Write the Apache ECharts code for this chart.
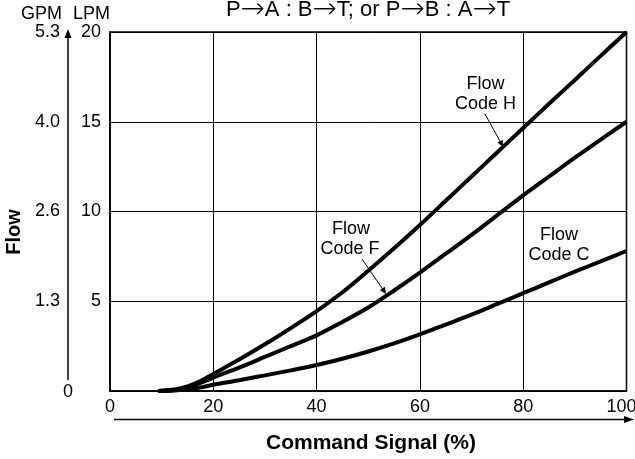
<!DOCTYPE html>
<html><head><meta charset="utf-8">
<script src="https://cdn.jsdelivr.net/npm/echarts@6/dist/echarts.min.js"></script>
<style>html,body{margin:0;padding:0;background:#fff}#c{width:635px;height:459px}</style>
</head><body><div id="c"></div>
<script>
const commandSignal = [9.3, 12.5, 15, 17.5, 20, 25, 30, 35, 40, 45, 50, 55, 60, 65, 70, 75, 80, 85, 90, 95, 100];
const flowCodeH = [0, 0.08, 0.25, 0.55, 0.95, 1.75, 2.6, 3.5, 4.45, 5.5, 6.7, 7.95, 9.25, 10.6, 11.95, 13.3, 14.65, 16.0, 17.33, 18.67, 20];
const flowCodeF = [0, 0.06, 0.2, 0.45, 0.75, 1.3, 1.9, 2.5, 3.1, 3.85, 4.65, 5.6, 6.6, 7.65, 8.7, 9.8, 10.9, 11.95, 13.0, 14.0, 15];
const flowCodeC = [0, 0.03, 0.1, 0.2, 0.35, 0.6, 0.87, 1.15, 1.45, 1.8, 2.2, 2.65, 3.15, 3.7, 4.25, 4.85, 5.45, 6.05, 6.65, 7.22, 7.8];
const lpmTicks = [0, 5, 10, 15, 20];
const gpmTicks = ['0', '1.3', '2.6', '4.0', '5.3'];
const xTicks = [0, 20, 40, 60, 80, 100];

const FONT = '"Liberation Sans", Arial, Helvetica, sans-serif';
const pair = (ys) => commandSignal.map((x, i) => [x, ys[i]]);
const chart = echarts.init(document.getElementById('c'), null, {renderer: 'canvas'});
const lineStyle = {color: '#000', width: 4};
const mkSeries = (name, ys) => ({
  name, type: 'line', smooth: 0.3, showSymbol: false, data: pair(ys),
  lineStyle, itemStyle: {color: '#000'}, z: 5
});
const txt = (x, y, s, size, bold) => ({type: 'text', x, y,
  style: {text: s, font: (bold ? 'bold ' : '') + size + 'px ' + FONT, fill: '#000', align: 'center', verticalAlign: 'middle'}});
chart.setOption({
  animation: false,
  backgroundColor: '#fff',
  grid: {left: 110, right: 8.5, top: 32, bottom: 68, show: false, containLabel: false, outerBoundsMode: 'none'},
  xAxis: [{
    type: 'value', min: 0, max: 100, interval: 20,
    axisLine: {show: true, lineStyle: {color: '#000', width: 1.5}},
    axisTick: {show: false},
    axisLabel: {color: '#000', fontFamily: FONT, fontSize: 18, margin: 7,
      formatter: v => v === 100 ? '{r|100}' : (xTicks.includes(v) ? String(v) : ''),
      rich: {r: {fontFamily: FONT, fontSize: 18, color: '#000', padding: [0, 10, 0, 0]}}},
    splitLine: {show: true, lineStyle: {color: '#000', width: 1}}
  }],
  yAxis: [{
    type: 'value', min: 0, max: 20, interval: 5, position: 'left',
    axisLine: {show: true, lineStyle: {color: '#000', width: 1.5}},
    axisTick: {show: false},
    axisLabel: {color: '#000', fontFamily: FONT, fontSize: 18, margin: 9,
      formatter: v => v === 0 ? '' : (lpmTicks.includes(v) ? String(v) : '')},
    splitLine: {show: true, lineStyle: {color: '#000', width: 1}}
  }, {
    type: 'value', min: 0, max: 20, interval: 5, position: 'left', offset: 42,
    axisLine: {show: false},
    axisTick: {show: false},
    axisLabel: {color: '#000', fontFamily: FONT, fontSize: 18, margin: 8,
      formatter: v => v === 0 ? '' : gpmTicks[lpmTicks.indexOf(v)]},
    splitLine: {show: false}
  }],
  series: [mkSeries('Flow Code H', flowCodeH), mkSeries('Flow Code F', flowCodeF), mkSeries('Flow Code C', flowCodeC)],
  graphic: [
    {type: 'rect', shape: {x: 110, y: 32, width: 516.5, height: 359}, style: {fill: 'none', stroke: '#000', lineWidth: 1.5}, z: 10},
    {type: 'text', x: 368, y: 10,
      style: {text: 'P{a|\u2192}A : B{a|\u2192}T; or P{a|\u2192}B : A{a|\u2192}T', font: '22px ' + FONT, fill: '#000',
        align: 'center', verticalAlign: 'middle',
        rich: {a: {fontFamily: 'DejaVu Sans', fontSize: 29, fill: '#000', fontWeight: 'lighter'}}}},
    txt(41.5, 14, 'GPM', 18), txt(91.5, 14, 'LPM', 18),
    txt(68, 392, '0', 18),
    {type: 'text', x: 14, y: 232, rotation: Math.PI / 2,
      style: {text: 'Flow', font: 'bold 20px ' + FONT, fill: '#000', align: 'center', verticalAlign: 'middle'}},
    txt(371, 443, 'Command Signal (%)', 21, true),
    {type: 'line', shape: {x1: 68, y1: 380, x2: 68, y2: 36}, style: {stroke: '#000', lineWidth: 1.5}},
    {type: 'polygon', shape: {points: [[68, 29], [64.5, 38], [71.5, 38]]}, style: {fill: '#000'}},
    {type: 'line', shape: {x1: 114, y1: 419.5, x2: 626, y2: 419.5}, style: {stroke: '#000', lineWidth: 1.5}},
    {type: 'polygon', shape: {points: [[634, 419.5], [624, 416], [624, 423]]}, style: {fill: '#000'}},
    txt(485.5, 84, 'Flow', 18), txt(485.5, 104, 'Code H', 18),
    {type: 'line', shape: {x1: 485, y1: 114, x2: 501, y2: 143}, style: {stroke: '#000', lineWidth: 1}},
    {type: 'polygon', shape: {points: [[503, 147], [497.5, 142.5], [502.8, 139.8]]}, style: {fill: '#000'}},
    txt(351, 229, 'Flow', 18), txt(350, 249, 'Code F', 18),
    {type: 'line', shape: {x1: 362, y1: 259, x2: 384, y2: 291}, style: {stroke: '#000', lineWidth: 1}},
    {type: 'polygon', shape: {points: [[386, 294], [379.8, 289.9], [384.9, 286.7]]}, style: {fill: '#000'}},
    txt(559, 235, 'Flow', 18), txt(559, 255, 'Code C', 18)
  ]
});
</script></body></html>
